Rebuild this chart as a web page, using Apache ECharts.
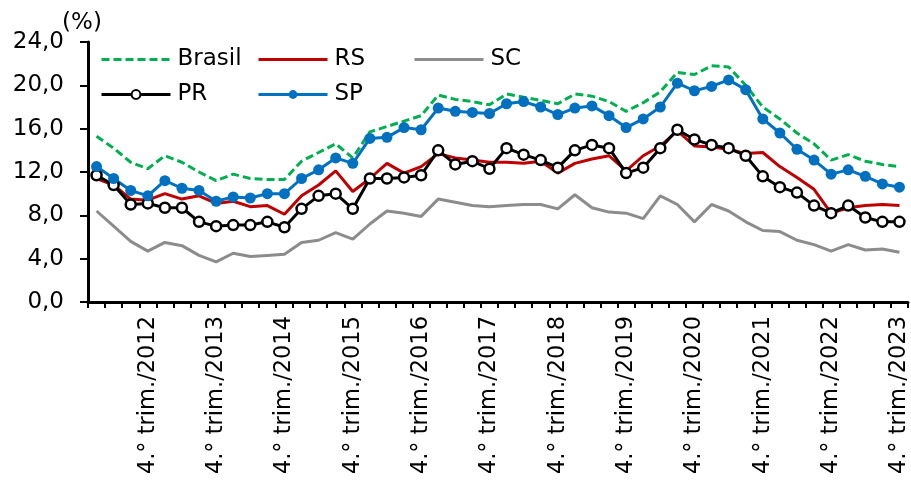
<!DOCTYPE html>
<html>
<head>
<meta charset="utf-8">
<script src="https://cdn.jsdelivr.net/npm/echarts@6/dist/echarts.min.js"></script>
<style>
  html, body { margin: 0; padding: 0; background: #fff; }
  #chart { width: 911px; height: 481px; }
</style>
</head>
<body>
<div id="chart"></div>
<script>
// Quarterly rates (%), 1.° trim./2012 to 4.° trim./2023
const years = [2012, 2013, 2014, 2015, 2016, 2017, 2018, 2019, 2020, 2021, 2022, 2023];
const quarters = ['1.°', '2.°', '3.°', '4.°'];

const brasil = [15.3, 14.2, 12.9, 12.3, 13.5, 12.9, 12.0, 11.2, 11.8, 11.4, 11.3, 11.3,
                13.0, 13.8, 14.6, 13.3, 15.7, 16.2, 16.7, 17.2, 19.1, 18.7, 18.5, 18.2,
                19.2, 18.9, 18.6, 18.3, 19.2, 19.0, 18.5, 17.6, 18.4, 19.4, 21.2, 21.0,
                21.8, 21.7, 20.0, 18.0, 16.9, 15.6, 14.6, 13.1, 13.6, 13.0, 12.7, 12.5];
const rs = [11.4, 10.8, 9.5, 9.4, 10.0, 9.5, 9.8, 9.1, 9.3, 8.8, 8.9, 8.1,
            9.8, 10.8, 12.1, 10.2, 11.4, 12.8, 11.9, 12.5, 13.7, 13.3, 13.1, 12.9,
            12.9, 12.8, 13.0, 11.9, 12.8, 13.2, 13.5, 12.1, 13.5, 14.4, 15.8, 14.4,
            14.3, 14.1, 13.7, 13.8, 12.5, 11.5, 10.4, 8.2, 8.7, 8.9, 9.0, 8.9];
const sc = [8.4, 7.0, 5.6, 4.7, 5.5, 5.2, 4.3, 3.7, 4.5, 4.2, 4.3, 4.4,
            5.5, 5.7, 6.4, 5.8, 7.2, 8.4, 8.2, 7.9, 9.5, 9.2, 8.9, 8.8,
            8.9, 9.0, 9.0, 8.6, 9.9, 8.7, 8.3, 8.2, 7.7, 9.8, 9.0, 7.4,
            9.0, 8.4, 7.4, 6.6, 6.5, 5.7, 5.3, 4.7, 5.3, 4.8, 4.9, 4.6];
const pr = [11.7, 10.8, 9.0, 9.1, 8.7, 8.7, 7.4, 7.0, 7.1, 7.1, 7.4, 6.9,
            8.6, 9.8, 10.0, 8.6, 11.4, 11.4, 11.5, 11.7, 14.0, 12.7, 13.0, 12.3,
            14.2, 13.6, 13.1, 12.4, 14.0, 14.5, 14.2, 11.9, 12.4, 14.2, 15.9, 15.0,
            14.5, 14.2, 13.5, 11.6, 10.6, 10.1, 8.9, 8.2, 8.9, 7.8, 7.4, 7.4];
const sp = [12.5, 11.4, 10.3, 9.8, 11.2, 10.5, 10.3, 9.3, 9.7, 9.6, 10.0, 10.0,
            11.4, 12.2, 13.3, 12.8, 15.1, 15.2, 16.1, 15.9, 17.9, 17.6, 17.5, 17.4,
            18.3, 18.5, 18.0, 17.3, 17.9, 18.1, 17.2, 16.1, 16.9, 18.0, 20.2, 19.5,
            19.9, 20.5, 19.6, 16.9, 15.6, 14.1, 13.1, 11.8, 12.2, 11.6, 10.9, 10.6];

const yTicks = { min: 0, max: 24, step: 4 };

const categories = [];
years.forEach(y => quarters.forEach(q => categories.push(q + ' trim./' + y)));

const FONT = '"DejaVu Sans", "Liberation Sans", Arial, sans-serif';

// One legend block per entry so the two rows line up in columns
function legendAt(name, left, top, lineOnly) {
  const item = { name: name };
  if (lineOnly) item.itemStyle = { opacity: 0 };
  return {
    data: [item], left: left, top: top, padding: 0,
    itemWidth: 69, itemHeight: 11, itemGap: 0,
    lineStyle: { width: 3 },
    textStyle: { fontFamily: FONT, fontSize: 23, color: '#000', padding: [0, 0, 0, 2] },
    selectedMode: false
  };
}

const chart = echarts.init(document.getElementById('chart'), null, { renderer: 'canvas' });
chart.setOption({
  animation: false,
  backgroundColor: '#fff',
  textStyle: { fontFamily: FONT },
  grid: { left: 88, right: 3, top: 42, bottom: 179, containLabel: false },
  legend: [
    legendAt('Brasil', 100, 48, true),
    legendAt('RS', 257, 48, true),
    legendAt('SC', 413, 48, true),
    legendAt('PR', 100, 83, false),
    legendAt('SP', 257, 83, false)
  ],
  xAxis: {
    type: 'category',
    data: categories,
    boundaryGap: true,
    axisLine: { lineStyle: { color: '#000', width: 3 } },
    axisTick: { show: true, interval: 0, length: 6, lineStyle: { color: '#000', width: 2 } },
    axisLabel: {
      interval: (i) => i % 4 === 3,
      rotate: 90,
      margin: 14,
      color: '#000',
      fontSize: 22.5,
      fontFamily: FONT
    },
    splitLine: { show: false }
  },
  yAxis: {
    type: 'value',
    min: yTicks.min, max: yTicks.max, interval: yTicks.step,
    name: '(%)',
    nameLocation: 'end',
    nameGap: 19,
    nameMoveOverlap: false,
    nameTextStyle: {
      color: '#000', fontSize: 23, fontFamily: FONT,
      align: 'center', verticalAlign: 'middle', padding: [0, 12, 0, 0]
    },
    axisLine: { show: true, lineStyle: { color: '#000', width: 3 } },
    axisTick: { show: true, length: 8, lineStyle: { color: '#000', width: 2 } },
    axisLabel: {
      margin: 24, color: '#000', fontSize: 23, fontFamily: FONT,
      formatter: v => v.toFixed(1).replace('.', ',')
    },
    splitLine: { show: false }
  },
  series: [
    {
      name: 'Brasil', type: 'line', data: brasil, symbol: 'none',
      lineStyle: { color: '#00B050', width: 3, type: [8, 4] },
      itemStyle: { color: '#00B050' }
    },
    {
      name: 'RS', type: 'line', data: rs, symbol: 'none',
      lineStyle: { color: '#C00000', width: 3 },
      itemStyle: { color: '#C00000' }
    },
    {
      name: 'SC', type: 'line', data: sc, symbol: 'none',
      lineStyle: { color: '#8C8C8C', width: 3 },
      itemStyle: { color: '#8C8C8C' }
    },
    {
      name: 'PR', type: 'line', data: pr, symbol: 'circle', symbolSize: 10, showSymbol: true,
      lineStyle: { color: '#000', width: 3 },
      itemStyle: { color: '#fff', borderColor: '#000', borderWidth: 2.5 }
    },
    {
      name: 'SP', type: 'line', data: sp, symbol: 'circle', symbolSize: 11, showSymbol: true,
      lineStyle: { color: '#0070C0', width: 3 },
      itemStyle: { color: '#0070C0' }
    }
  ]
});
</script>
</body>
</html>
